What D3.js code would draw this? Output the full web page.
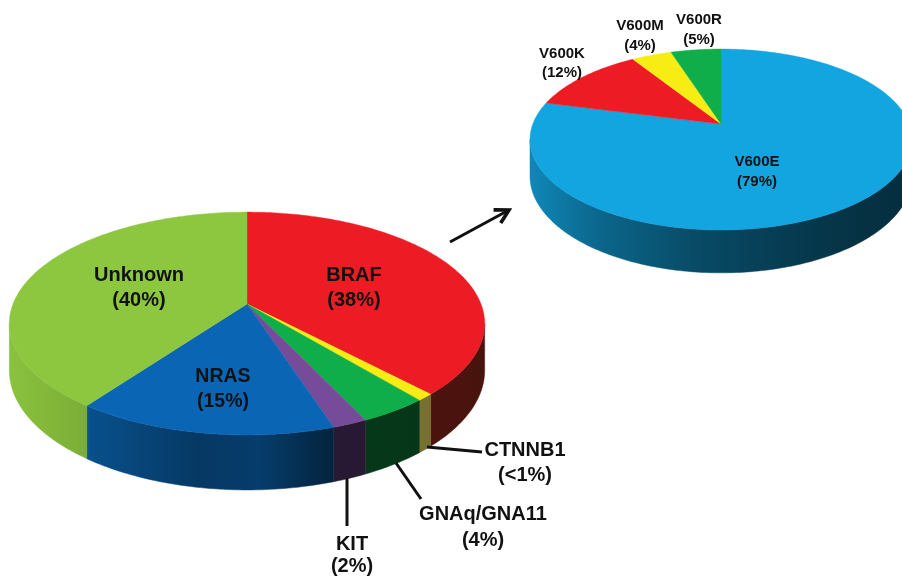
<!DOCTYPE html>
<html>
<head>
<meta charset="utf-8">
<script src="https://d3js.org/d3.v7.min.js"></script>
<style>
  html, body { margin: 0; padding: 0; background: #fff; }
  svg { display: block; filter: blur(0.45px); }
  text { font-family: "Liberation Sans", Arial, sans-serif; font-weight: bold; fill: #111; text-anchor: middle; }
</style>
</head>
<body>
<div id="chart"></div>
<script>
// left pie
const geneNames = ["BRAF", "CTNNB1", "GNAq/GNA11", "KIT", "NRAS", "Unknown"];
const geneValues = [38, 1, 4, 2, 15, 40];
const geneColors = ["#ed1c24", "#f7ec13", "#0fae4b", "#764b9a", "#0a66b4", "#8dc63f"];
const geneWallColors = ["#f4402c", "#f0e060", "#0fae4b", "#764b9a", "#0a66b4", "#8dc63f"];
const geneWallGain = [1, 1.6, 1, 1, 1, 1];

// right pie
const mutationNames = ["V600E", "V600K", "V600M", "V600R"];
const mutationValues = [79, 12, 4, 5];
const mutationColors = ["#12a5e0", "#ed1c24", "#f7ec13", "#0fae4b"];
const mutationWallGain = [1, 1, 1, 1];

const width = 902, height = 576;

const svg = d3.select("#chart").append("svg")
    .attr("width", width)
    .attr("height", height);
const defs = svg.append("defs");

defs.append("marker")
    .attr("id", "arrow-head")
    .attr("viewBox", "0 0 12 12")
    .attr("refX", 10)
    .attr("refY", 6)
    .attr("markerWidth", 6)
    .attr("markerHeight", 6)
    .attr("orient", "auto")
    .append("path")
    .attr("d", "M 1 1 L 10 6 L 1 11")
    .attr("fill", "none")
    .attr("stroke", "#111")
    .attr("stroke-width", 2.4);

// tilted pie: perspective projection of a circle, far edge is at the top
function drawPie(id, opt) {
    const k = opt.k;
    const project = function(a, drop) {
        const w = 1 + k * Math.cos(a);
        return [
            opt.cx + opt.a * Math.sin(a) / w,
            opt.cy - opt.b * Math.cos(a) / w + (drop ? opt.depth / w : 0)
        ];
    };

    const pie = d3.pie().sort(null).value(d => d)(opt.values);
    const g = svg.append("g").attr("class", id);

    // the wall only shows between the two silhouette points
    const visFrom = Math.acos(-k), visTo = 2 * Math.PI - visFrom;
    const shade = d3.scaleLinear().domain(opt.shadeX).range(opt.shadeF).clamp(true);
    const line = d3.line();

    function arcPoints(a0, a1, drop) {
        const n = Math.max(2, Math.ceil((a1 - a0) * 60));
        return d3.range(n + 1).map(i => project(a0 + (a1 - a0) * i / n, drop));
    }

    pie.forEach((s, i) => {
        const a0 = Math.max(s.startAngle, visFrom), a1 = Math.min(s.endAngle, visTo);
        if (a1 <= a0) return;
        const gid = id + "-wall-" + i;
        const base = d3.rgb(opt.wallColors[i]);
        const gain = opt.wallGain[i];
        const grad = defs.append("linearGradient")
            .attr("id", gid)
            .attr("gradientUnits", "userSpaceOnUse")
            .attr("x1", opt.shadeX[0]).attr("y1", 0)
            .attr("x2", opt.shadeX[opt.shadeX.length - 1]).attr("y2", 0);
        opt.shadeX.forEach(x => {
            const f = shade(x) * gain;
            grad.append("stop")
                .attr("offset", (x - opt.shadeX[0]) / (opt.shadeX[opt.shadeX.length - 1] - opt.shadeX[0]))
                .attr("stop-color", d3.rgb(base.r * f, base.g * f, base.b * f).formatHex());
        });
        const pts = arcPoints(a0, a1, false).concat(arcPoints(a0, a1, true).reverse());
        g.append("path")
            .attr("d", line(pts) + "Z")
            .attr("fill", "url(#" + gid + ")")
            .attr("stroke", "url(#" + gid + ")")
            .attr("stroke-width", 0.5);
    });

    pie.forEach((s, i) => {
        const pts = [[opt.cx, opt.cy]].concat(arcPoints(s.startAngle, s.endAngle, false));
        g.append("path")
            .attr("d", line(pts) + "Z")
            .attr("fill", opt.colors[i])
            .attr("stroke", opt.colors[i])
            .attr("stroke-width", 0.4);
    });
}

drawPie("genes", {
    cx: 247, cy: 304, a: 234, b: 108, k: 0.175, depth: 45.4,
    values: geneValues, colors: geneColors, wallColors: geneWallColors, wallGain: geneWallGain,
    shadeX: [9, 85, 90, 200, 260, 320, 340, 485],
    shadeF: [0.98, 0.88, 0.78, 0.55, 0.6, 0.38, 0.33, 0.3]
});

drawPie("mutations", {
    cx: 721, cy: 124, a: 188.2, b: 87.8, k: 0.171, depth: 35.6,
    values: mutationValues, colors: mutationColors, wallColors: mutationColors, wallGain: mutationWallGain,
    shadeX: [530, 600, 700, 790, 860, 912],
    shadeF: [0.82, 0.62, 0.45, 0.36, 0.3, 0.28]
});

function label(name, pct, x, y, size, gap) {
    const t = svg.append("text").attr("font-size", size);
    t.append("tspan").attr("x", x).attr("y", y).text(name);
    t.append("tspan").attr("x", x).attr("y", y + gap).text(pct);
}

const pctText = v => "(" + v + "%)";

label(geneNames[5], pctText(geneValues[5]), 139, 281, 20, 25);
label(geneNames[0], pctText(geneValues[0]), 354, 281, 20, 25);
label(geneNames[4], pctText(geneValues[4]), 223, 382, 19.5, 25);
label(geneNames[1], "(<1%)", 525, 456, 20, 25);
label(geneNames[2], pctText(geneValues[2]), 483, 520, 20, 26);
label(geneNames[3], pctText(geneValues[3]), 352, 550, 20, 22);

label(mutationNames[0], pctText(mutationValues[0]), 757, 166, 15, 20);
label(mutationNames[1], pctText(mutationValues[1]), 562, 58, 15, 19);
label(mutationNames[2], pctText(mutationValues[2]), 640, 30, 15, 20);
label(mutationNames[3], pctText(mutationValues[3]), 699, 24, 15, 20);

// leader lines
const leaders = [
    [[427, 447], [482, 452]],
    [[396, 463], [421, 499]],
    [[347, 478], [347, 526]]
];
svg.selectAll("line.leader").data(leaders).enter().append("line")
    .attr("class", "leader")
    .attr("x1", d => d[0][0]).attr("y1", d => d[0][1])
    .attr("x2", d => d[1][0]).attr("y2", d => d[1][1])
    .attr("stroke", "#111")
    .attr("stroke-width", 3);

svg.append("line")
    .attr("x1", 450).attr("y1", 242)
    .attr("x2", 509).attr("y2", 210)
    .attr("stroke", "#111")
    .attr("stroke-width", 3)
    .attr("marker-end", "url(#arrow-head)");
</script>
</body>
</html>
